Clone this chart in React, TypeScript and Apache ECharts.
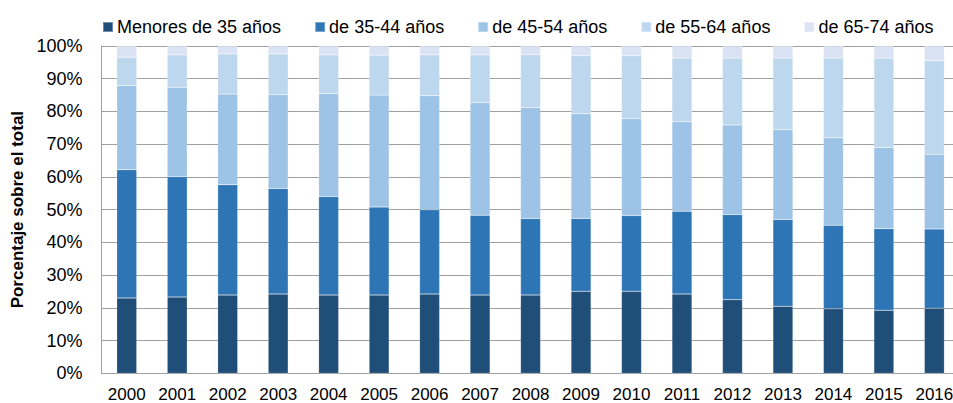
import React, { useEffect, useRef } from "react";
import * as echarts from "echarts";

const years = ["2000","2001","2002","2003","2004","2005","2006","2007","2008","2009","2010","2011","2012","2013","2014","2015","2016"];
const seriesNames = ["Menores de 35 años", "de 35-44 años", "de 45-54 años", "de 55-64 años", "de 65-74 años"];
const menores35 = [23.0, 23.3, 23.9, 24.2, 23.9, 23.9, 24.2, 23.9, 23.9, 25.1, 25.1, 24.2, 22.5, 20.5, 19.7, 19.3, 19.9];
const de35a44 = [39.2, 36.8, 33.7, 32.3, 30.1, 26.9, 25.8, 24.4, 23.4, 22.2, 23.1, 25.3, 26.0, 26.5, 25.5, 24.9, 24.2];
const de45a54 = [25.7, 27.3, 27.7, 28.6, 31.5, 34.2, 34.8, 34.4, 33.9, 32.0, 29.6, 27.4, 27.4, 27.5, 26.8, 24.8, 22.8];
const de55a64 = [8.7, 9.9, 12.3, 12.5, 11.8, 12.2, 12.5, 14.6, 16.1, 17.7, 19.2, 19.4, 20.4, 21.8, 24.3, 27.3, 28.6];
const de65a74 = [3.4, 2.7, 2.4, 2.4, 2.7, 2.8, 2.7, 2.7, 2.7, 3.0, 3.0, 3.7, 3.7, 3.7, 3.7, 3.7, 4.5];
const yTicks = [0, 10, 20, 30, 40, 50, 60, 70, 80, 90, 100];

const allData = [menores35, de35a44, de45a54, de55a64, de65a74];
const colors = ["#1F4E79", "#2E75B6", "#9DC3E6", "#BDD7EE", "#DAE3F3"];
const FONT = "'Liberation Sans', Arial, Helvetica, sans-serif";

export default function App() {
  const ref = useRef<HTMLDivElement>(null);
  useEffect(() => {
    if (!ref.current) return;
    const chart = echarts.init(ref.current, undefined, { renderer: "svg" });
    chart.setOption({
      animation: false,
      textStyle: { fontFamily: FONT },
      legend: {
        left: 97,
        top: 13,
        itemWidth: 10,
        itemHeight: 10,
        itemGap: 33,
        icon: "rect",
        textStyle: { fontSize: 18, color: "#000", fontFamily: FONT, padding: [0, 0, 0, -1] },
        data: seriesNames,
      },
      grid: {
        left: 101.5,
        right: -6.6,
        top: 46,
        bottom: 29.7,
        containLabel: false,
        outerBoundsMode: "none",
      },
      xAxis: {
        type: "category",
        data: years,
        axisLine: { show: true, lineStyle: { color: "#A0A0A0", width: 1 } },
        axisTick: { show: false },
        axisLabel: {
          fontSize: 17,
          lineHeight: 17,
          color: "#000",
          margin: 12.2,
          fontFamily: FONT,
          interval: 0,
          hideOverlap: false,
        },
      },
      yAxis: {
        type: "value",
        min: 0,
        max: 100,
        interval: 10,
        name: "Porcentaje sobre el total",
        nameLocation: "middle",
        nameRotate: 90,
        nameGap: 70,
        nameTextStyle: { fontSize: 17, fontWeight: "bold", color: "#000", fontFamily: FONT },
        axisLine: { show: true, lineStyle: { color: "#A0A0A0", width: 1 } },
        axisTick: { show: false },
        splitLine: { show: true, lineStyle: { color: "#A0A0A0", width: 1 } },
        axisLabel: {
          fontSize: 18,
          color: "#000",
          margin: 19,
          fontFamily: FONT,
          formatter: (v: number) => (yTicks.includes(v) ? v + "%" : ""),
        },
      },
      series: allData.map((d, i) => ({
        name: seriesNames[i],
        type: "bar",
        stack: "total",
        barWidth: 20,
        data: d,
        itemStyle: { color: colors[i], borderColor: "rgba(255,255,255,0.35)", borderWidth: 0.5 },
      })),
    });
    return () => chart.dispose();
  }, []);
  return <div ref={ref} style={{ position: "absolute", left: 0, top: 0, width: 953, height: 403 }} />;
}
